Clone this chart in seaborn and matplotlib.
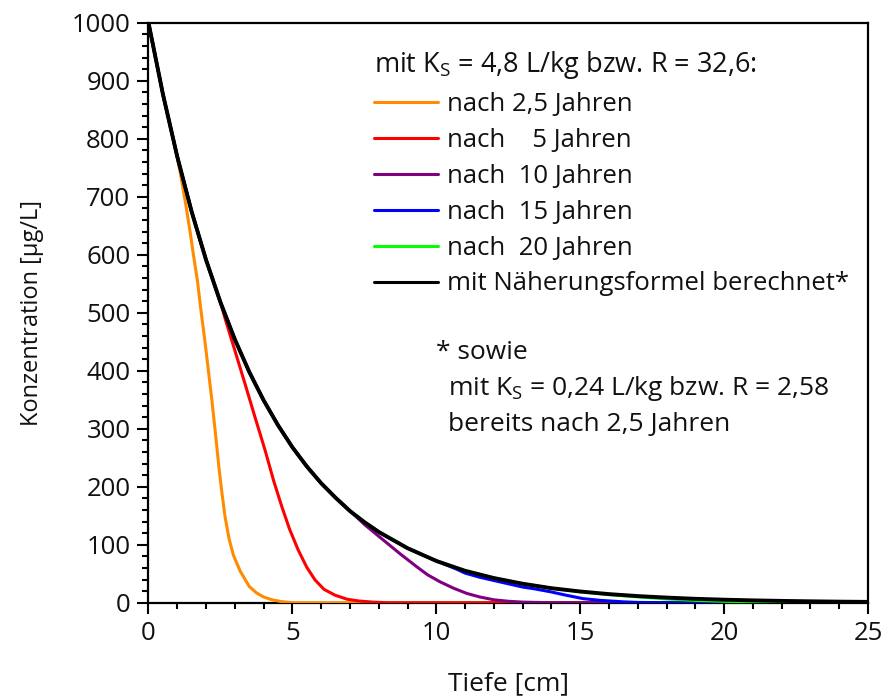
import numpy as np
import pandas as pd
import matplotlib
matplotlib.use("Agg")
import matplotlib.pyplot as plt
import seaborn as sns
from matplotlib.ticker import MultipleLocator

# ---- data ----
x_black = [0, 0.5, 1, 1.5, 2, 2.5, 3, 3.5, 4, 4.5, 5, 5.5, 6, 6.5, 7, 7.5, 8, 9, 10, 11, 12, 13, 14, 15, 16, 17, 18, 19, 20, 21, 22, 23, 24, 25]
y_black = [1000, 877, 769, 674, 591, 518, 454, 398, 349, 306, 268, 235, 206, 181, 158, 139, 122, 94, 72, 55, 42.5, 32.7, 25, 19.3, 14.8, 11.4, 8.8, 6.7, 5.2, 4.0, 3.1, 2.4, 1.8, 1.4]

x_orange = [0, 0.5, 0.9, 1.09, 1.3, 1.45, 1.56, 1.70, 1.82, 1.95, 2.07, 2.20, 2.33, 2.45, 2.55, 2.66, 2.8, 2.95, 3.18, 3.5, 3.75, 3.99, 4.3, 4.6, 5, 25]
y_orange = [1000, 877, 790, 745, 685, 638, 600, 555, 505, 455, 405, 350, 290, 232, 190, 148, 110, 82, 55, 28, 17, 10, 5, 2, 0, 0]

x_red = [0, 0.5, 1, 1.5, 2, 2.5, 2.66, 3.0, 3.35, 3.7, 4.05, 4.35, 4.63, 4.9, 5.2, 5.5, 5.79, 6.1, 6.48, 6.9, 7.3, 7.8, 8.3, 25]
y_red = [1000, 877, 769, 674, 591, 518, 490, 435, 378, 320, 263, 210, 166, 127, 91, 61, 39, 23, 13, 6, 3, 1, 0, 0]

x_purple = [0, 0.5, 1, 1.5, 2, 2.5, 3, 3.5, 4, 4.5, 5, 5.5, 6, 6.5, 6.8, 7.5, 8.16, 8.75, 9.32, 9.7, 10.13, 10.6, 11.06, 11.5, 12.0, 12.5, 13, 14, 25]
y_purple = [1000, 877, 769, 674, 591, 518, 454, 398, 349, 306, 268, 235, 206, 181, 168, 135, 108, 84, 62, 48, 36, 25, 16, 10, 5, 2.5, 1, 0, 0]

x_blue = [0, 0.5, 1, 1.5, 2, 2.5, 3, 3.5, 4, 4.5, 5, 5.5, 6, 6.5, 7, 7.5, 8, 9, 10, 10.7, 11, 11.5, 12.2, 13, 13.4, 13.95, 14.5, 15.1, 15.7, 16.5, 17, 18, 25]
y_blue = [1000, 877, 769, 674, 591, 518, 454, 398, 349, 306, 268, 235, 206, 181, 158, 139, 122, 94, 72, 58, 51, 44, 36, 27, 24, 19, 13, 7, 4, 1.5, 0.5, 0, 0]

x_green = [0, 0.5, 1, 1.5, 2, 2.5, 3, 3.5, 4, 4.5, 5, 5.5, 6, 6.5, 7, 7.5, 8, 9, 10, 11, 12, 13, 14, 15, 16, 17, 18, 19, 20, 21, 22, 23, 25]
y_green = [1000, 877, 769, 674, 591, 518, 454, 398, 349, 306, 268, 235, 206, 181, 158, 139, 122, 94, 72, 55, 42.5, 32.7, 25, 19, 14, 10, 6.5, 4, 2.5, 1.2, 0.5, 0.1, 0]

labels = ["nach 2,5 Jahren", "nach    5 Jahren", "nach  10 Jahren",
          "nach  15 Jahren", "nach  20 Jahren", "mit Näherungsformel berechnet*"]
colors = ["#FF8C00", "#FF0000", "#800080", "#0000FF", "#00FF00", "#000000"]
xs = [x_orange, x_red, x_purple, x_blue, x_green, x_black]
ys = [y_orange, y_red, y_purple, y_blue, y_green, y_black]

legend_title = "mit K$_\\mathrm{S}$ = 4,8 L/kg bzw. R = 32,6:"
note_lines = ["* sowie", "mit K$_\\mathrm{S}$ = 0,24 L/kg bzw. R = 2,58", "bereits nach 2,5 Jahren"]

# ---- style ----
sns.set_theme(style="white")
FONT = "Open Sans"
plt.rcParams["font.family"] = [FONT, "DejaVu Sans"]
plt.rcParams["mathtext.fontset"] = "custom"
plt.rcParams["mathtext.rm"] = FONT
plt.rcParams["mathtext.it"] = FONT
plt.rcParams["mathtext.bf"] = FONT
FS = 18.5
TXT = "#111111"

fig = plt.figure(figsize=(8.87, 6.97), dpi=100)
ax = fig.add_axes([148.5 / 887, 1 - 602.7 / 697, (868 - 148.5) / 887, (602.7 - 22.7) / 697])

for i, (xv, yv, lab, col) in enumerate(zip(xs, ys, labels, colors)):
    df = pd.DataFrame({"x": xv, "y": yv})
    sns.lineplot(data=df, x="x", y="y", ax=ax, color=col, label=lab,
                 linewidth=2.8 if col == "#000000" else 2.2, zorder=3 + i)

ax.set_xlim(0, 25)
ax.set_ylim(0, 1000)
ax.xaxis.set_major_locator(MultipleLocator(5))
ax.xaxis.set_minor_locator(MultipleLocator(1))
ax.yaxis.set_major_locator(MultipleLocator(100))
ax.yaxis.set_minor_locator(MultipleLocator(20))
ax.tick_params(which="both", direction="out", bottom=True, left=True, top=False, right=False,
               color="black", width=1.5, labelsize=FS, labelcolor=TXT)
ax.tick_params(which="major", length=8, pad=5)
ax.tick_params(which="minor", length=4)
for sp in ax.spines.values():
    sp.set_color("black")
    sp.set_linewidth(1.6)

ax.set_xlabel("Tiefe [cm]", fontsize=19, color=TXT, labelpad=18)
ax.set_ylabel("Konzentration [µg/L]", fontsize=17, color=TXT, labelpad=20)

leg = ax.legend(loc="upper left", bbox_to_anchor=(0.313, 0.9547), frameon=False,
                fontsize=FS, title=legend_title, title_fontsize=19.5, alignment="left",
                handlelength=2.5, handletextpad=0.35, labelspacing=0.425,
                borderpad=0, borderaxespad=0)
for h in leg.get_lines():
    h.set_linewidth(2.2)
for t in leg.get_texts():
    t.set_color(TXT)
leg.get_title().set_color(TXT)

ax.text(0.3996, 0.432, note_lines[0], transform=ax.transAxes, fontsize=19, va="center", ha="left", color=TXT)
ax.text(0.416, 0.370, note_lines[1], transform=ax.transAxes, fontsize=19, va="center", ha="left", color=TXT)
ax.text(0.416, 0.3064, note_lines[2], transform=ax.transAxes, fontsize=19, va="center", ha="left", color=TXT)

fig.savefig("out.png", dpi=100)
